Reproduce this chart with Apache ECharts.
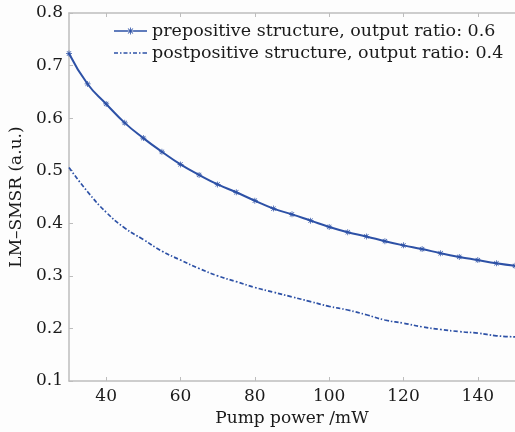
<!DOCTYPE html>
<html>
<head>
<meta charset="utf-8">
<script src="https://cdn.jsdelivr.net/npm/echarts@6/dist/echarts.min.js"></script>
<style>
  html, body { margin: 0; padding: 0; background: #fdfdfd; }
  #chart { width: 515px; height: 432px; }
</style>
</head>
<body>
<div id="chart"></div>
<script>
var pumpPower = [30, 35, 40, 45, 50, 55, 60, 65, 70, 75, 80, 85, 90, 95, 100,
                 105, 110, 115, 120, 125, 130, 135, 140, 145, 150];
var prepositive = [0.723, 0.665, 0.627, 0.591, 0.562, 0.536, 0.512, 0.492, 0.474, 0.459,
                   0.443, 0.428, 0.417, 0.405, 0.393, 0.383, 0.375, 0.366, 0.358, 0.351,
                   0.343, 0.336, 0.330, 0.324, 0.319];
var postpositive = [0.506, 0.460, 0.421, 0.391, 0.369, 0.347, 0.330, 0.314, 0.300, 0.289,
                    0.278, 0.269, 0.260, 0.251, 0.242, 0.235, 0.226, 0.216, 0.210, 0.203,
                    0.198, 0.194, 0.191, 0.186, 0.184];
var xTicks = [40, 60, 80, 100, 120, 140];
var seriesNames = ['prepositive structure, output ratio: 0.6',
                   'postpositive structure, output ratio: 0.4'];

var chart = echarts.init(document.getElementById('chart'));
var blue = '#2d51a6';
var serif = 'DejaVu Serif';
var axisGray = '#bdbdbd';

function pairs(xs, ys) {
    return xs.map(function (x, i) { return [x, ys[i]]; });
}

// asterisk outline in a 10x10 box
var starPts = [[4.4,0],[5.6,0],[5.6,3.6],[8.2,1],[9,1.8],[6.4,4.4],[10,4.4],[10,5.6],[6.4,5.6],
               [9,8.2],[8.2,9],[5.6,6.4],[5.6,10],[4.4,10],[4.4,6.4],[1.8,9],[1,8.2],[3.6,5.6],
               [0,5.6],[0,4.4],[3.6,4.4],[1,1.8],[1.8,1],[4.4,3.6]];
function starPath(s, dx, dy) {
    return starPts.map(function (p, i) {
        return (i ? 'L' : 'M') + (p[0] * s + dx).toFixed(2) + ',' + (p[1] * s + dy).toFixed(2);
    }).join('') + 'Z';
}
function rect(x0, x1) {
    return 'M' + x0 + ',4.3L' + x1 + ',4.3L' + x1 + ',5.7L' + x0 + ',5.7Z';
}
// tiny corner specks keep the icon box at 33x10
var box = 'M0,0L0.01,0L0.01,0.01Z M33,10L32.99,10L32.99,9.99Z';
var star = 'path://' + starPath(1, 0, 0);
var iconSolid = 'path://' + box + rect(0, 13.8) + rect(19.2, 33) + starPath(0.7, 13, 1.5);
var iconDashDot = 'path://' + box + rect(0, 4) + rect(6, 7.5) + rect(9.5, 13.5) + rect(15.5, 17)
                + rect(19, 23) + rect(25, 26.5) + rect(28.5, 33);

var option = {
    animation: false,
    backgroundColor: '#fdfdfd',
    grid: { left: 68, right: -2, top: 13, bottom: 49 },
    legend: {
        orient: 'vertical',
        left: 114,
        top: 22,
        padding: 0,
        itemWidth: 33,
        itemHeight: 10,
        itemGap: 4,
        textStyle: { fontFamily: serif, fontSize: 17.5, color: '#1a1a1a', lineHeight: 18 },
        data: [
            { name: seriesNames[0], icon: iconSolid },
            { name: seriesNames[1], icon: iconDashDot }
        ]
    },
    xAxis: [{
        type: 'value',
        min: 30,
        max: 150,
        name: 'Pump power /mW',
        nameLocation: 'middle',
        nameGap: 29,
        nameTextStyle: { fontFamily: serif, fontSize: 17, color: '#1a1a1a' },
        axisLine: { show: true, lineStyle: { color: axisGray, width: 1.5 } },
        axisTick: { show: true, inside: true, length: 4, customValues: xTicks,
                    lineStyle: { color: axisGray } },
        axisLabel: { customValues: xTicks, fontFamily: serif, fontSize: 17,
                     color: '#1a1a1a', margin: 7 },
        splitLine: { show: false }
    }, {
        type: 'value',
        position: 'top',
        min: 30,
        max: 150,
        axisLine: { show: true, onZero: false, lineStyle: { color: axisGray, width: 1.5 } },
        axisTick: { show: true, inside: true, length: 4, customValues: xTicks,
                    lineStyle: { color: axisGray } },
        axisLabel: { show: false },
        splitLine: { show: false }
    }],
    yAxis: {
        type: 'value',
        min: 0.1,
        max: 0.8,
        interval: 0.1,
        name: 'LM–SMSR (a.u.)',
        nameLocation: 'middle',
        nameGap: 44,
        nameTextStyle: { fontFamily: serif, fontSize: 17, color: '#1a1a1a' },
        axisLine: { show: true, lineStyle: { color: axisGray, width: 1.5 } },
        axisTick: { show: true, inside: true, length: 4, lineStyle: { color: axisGray } },
        axisLabel: { fontFamily: serif, fontSize: 17, color: '#1a1a1a', margin: 6,
                     formatter: function (v) { return v.toFixed(1); } },
        splitLine: { show: false }
    },
    series: [{
        name: seriesNames[0],
        type: 'line',
        data: pairs(pumpPower, prepositive),
        symbol: star,
        symbolSize: 6,
        smooth: true,
        lineStyle: { color: blue, width: 2 },
        itemStyle: { color: blue }
    }, {
        name: seriesNames[1],
        type: 'line',
        data: pairs(pumpPower, postpositive),
        symbol: 'none',
        smooth: true,
        lineStyle: { color: blue, width: 1.7, type: [4.5, 2, 1.5, 2] },
        itemStyle: { color: blue }
    }]
};

chart.setOption(option);
</script>
</body>
</html>
